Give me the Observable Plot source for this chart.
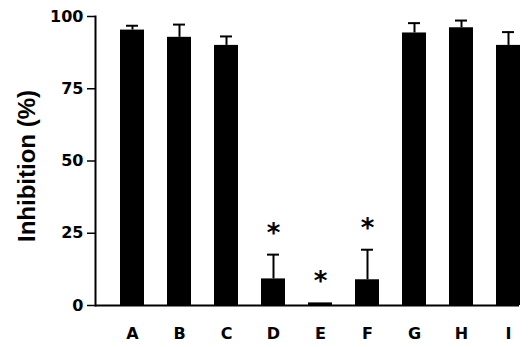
<!DOCTYPE html>
<html>
<head>
<meta charset="utf-8">
<script src="https://cdn.jsdelivr.net/npm/d3@7"></script>
<script src="https://cdn.jsdelivr.net/npm/@observablehq/plot@0.6"></script>
<style>
  html, body { margin: 0; padding: 0; background: #fff; }
  #chart svg { display: block; }
</style>
</head>
<body>
<div id="chart"></div>
<script>
const categories = ["A", "B", "C", "D", "E", "F", "G", "H", "I"];
const inhibition = [95.3, 92.8, 90.0, 9.2, 0.9, 8.9, 94.3, 96.1, 90.0];
const errors = [1.5, 4.4, 3.1, 8.4, 0, 10.4, 3.4, 2.5, 4.6];
const significant = [false, false, false, true, true, true, false, false, false];
const yTicks = [0, 25, 50, 75, 100];
const yLabel = "Inhibition (%)";

const data = categories.map((c, i) => ({
  cat: c, value: inhibition[i], err: errors[i], top: inhibition[i] + errors[i], sig: significant[i]
}));
const withErr = data.filter(d => d.err > 0);
const sig = data.filter(d => d.sig);

const chart = Plot.plot({
  width: 531,
  height: 347,
  marginLeft: 95,
  marginRight: 12,
  marginTop: 16,
  marginBottom: 42,
  style: { fontFamily: "'DejaVu Sans', sans-serif", background: "#fff", color: "#000" },
  x: { domain: categories, paddingInner: 0.5, paddingOuter: 0.19, align: 1, axis: null },
  y: { domain: [0, 100], axis: null },
  marks: [
    Plot.barY(data, { x: "cat", y: "value", fill: "#000" }),
    Plot.ruleX(withErr, { x: "cat", y1: "value", y2: "top", stroke: "#000", strokeWidth: 2 }),
    Plot.tickY(withErr, { x: "cat", y: "top", stroke: "#000", strokeWidth: 2, insetLeft: 6, insetRight: 6 }),
    Plot.text(sig, { x: "cat", y: "top", text: () => "*", fontSize: 26, fontWeight: "bold", lineAnchor: "middle", dy: -21, fill: "#000" }),
    Plot.ruleY([0], { stroke: "#000", strokeWidth: 2 }),
    Plot.frame({ anchor: "left", stroke: "#000", strokeWidth: 2 }),
    Plot.axisY({ ticks: yTicks, tickSize: 8, tickPadding: 4, fontSize: 16, fontWeight: "bold", strokeWidth: 1.5, label: null }),
    Plot.axisX({ tickSize: 0, tickPadding: 22, fontSize: 16, fontWeight: "bold", label: null }),
    Plot.text([yLabel], { frameAnchor: "left", text: d => d, rotate: -90, dx: -68, dy: 5, fontSize: 24, fontWeight: "bold", fontFamily: "'Liberation Sans', Arial, sans-serif", textAnchor: "middle", lineAnchor: "middle", fill: "#000" })
  ]
});
document.getElementById("chart").appendChild(chart);
</script>
</body>
</html>
